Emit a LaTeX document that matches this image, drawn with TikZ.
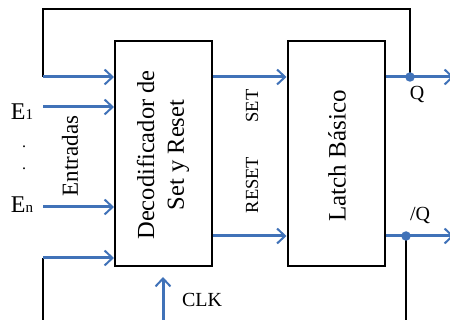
\documentclass[tikz,border=0pt]{standalone}
\usepackage{fontspec}
\setmainfont{Liberation Serif}
\usepackage{tikz}
\usetikzlibrary{positioning, arrows.meta, calc}
\definecolor{sigblue}{RGB}{64,114,184}

\newcommand{\fsz}[1]{\fontsize{#1}{1.22\dimexpr#1pt\relax}\selectfont}

\begin{document}
\begin{tikzpicture}[
        x = 1pt, y = -1pt,
        block/.style = {draw, line width=2pt, minimum width=97pt, minimum height=225pt, inner sep=0pt},
        vlabel/.style = {rotate=90, align=center, inner sep=0pt},
        sig/.style = {sigblue, line width=3pt, -{Straight Barb[length=8pt, width=15pt, line width=2pt]}},
        fb/.style = {black, line width=2pt},
        dot/.style = {circle, fill=sigblue, inner sep=0pt, minimum size=9.5pt},
    ]
        \useasboundingbox (0,0) rectangle (450,320);

        % blocks
        \node[block] (dec) at (163.5,153.5) {};
        \node[block] (lat) at (336,153.5) {};
        \node[vlabel, font=\fsz{24.5}] (dectxt) at (163,155) {Decodificador de\\Set y Reset};
        \node[vlabel, font=\fsz{25}] (lattxt) at (337,156) {Latch Básico};

        % inputs
        \coordinate (fbin) at (43,77);
        \coordinate (e1) at (43,107);
        \coordinate (en) at (43,207);
        \coordinate (nqin) at (43,258);
        \coordinate (fbtop) at (43,9);
        \coordinate (nqbot) at (43,322);
        \node[font=\fsz{24}] (e1txt) at (22,112) {E{\fsz{15}1}};
        \node[font=\fsz{24}] (entxt) at (22,205) {E{\fsz{15}n}};
        \node[font=\fsz{16}, inner sep=0pt] (dot1) at (24,147) {.};
        \node[font=\fsz{16}, inner sep=0pt] (dot2) at (24,169) {.};
        \node[vlabel, font=\fsz{23}] (entr) at (70,156) {Entradas};

        % outputs
        \coordinate (qdot) at (410,77);
        \coordinate (nqdot) at (406,236);
        \coordinate (qend) at (454,77);
        \coordinate (nqend) at (454,236);
        \node[font=\fsz{20}] (qtxt) at (417,95) {Q};
        \node[font=\fsz{20}] (nqtxt) at (420,216) {/Q};
        \node[vlabel, font=\fsz{18.5}] (settxt) at (252,106) {SET};
        \node[vlabel, font=\fsz{18.5}] (rsttxt) at (252,185) {RESET};

        % clock
        \coordinate (clk) at (163,322);
        \node[font=\fsz{20}] (clktxt) at (202,300) {CLK};

        % feedback wires
        \draw[fb] (qdot) |- (fbtop) -- (fbin);
        \draw[fb] (nqin) -- (nqbot);
        \draw[fb] (nqdot) -- ++(0,90);

        % signal arrows
        \draw[sig] (fbin) -- (fbin -| dec.west);
        \draw[sig] (e1) -- (e1 -| dec.west);
        \draw[sig] (en) -- (en -| dec.west);
        \draw[sig] (nqin) -- (nqin -| dec.west);
        \draw[sig] (fbin -| dec.east) -- (fbin -| lat.west);
        \draw[sig] (nqdot -| dec.east) -- (nqdot -| lat.west);
        \draw[sig] (qdot -| lat.east) -- (qend);
        \draw[sig] (nqdot -| lat.east) -- (nqend);
        \draw[sig] (clk) -- ++(0,-45);
        \node[dot] at (qdot) {};
        \node[dot] at (nqdot) {};
    \end{tikzpicture}
\end{document}
